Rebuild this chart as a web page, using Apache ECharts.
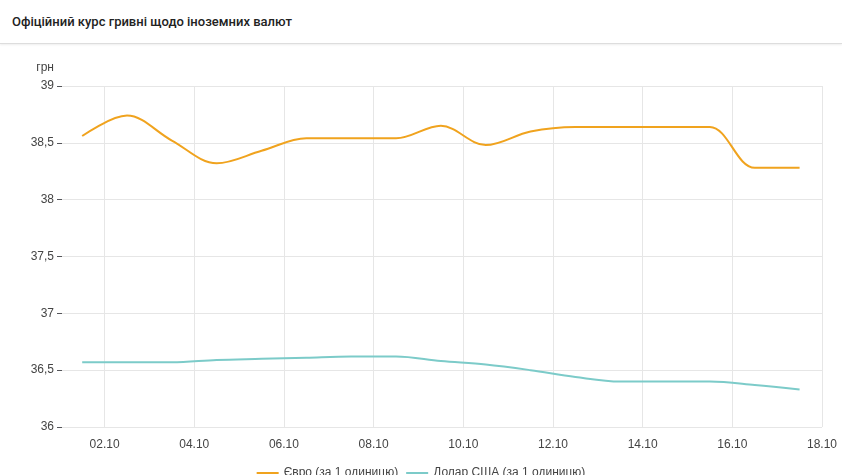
<!DOCTYPE html>
<html><head><meta charset="utf-8">
<script src="https://cdn.jsdelivr.net/npm/echarts@6/dist/echarts.min.js"></script>
<style>
body{margin:0;background:#fff;font-family:Roboto,sans-serif}
#hdr{height:44px;border-bottom:1px solid #ddd;box-shadow:0 1px 2px #eee;font-size:13px;font-weight:500;color:#222;line-height:44px;padding-left:12px;box-sizing:border-box}
#chart{width:842px;height:431px}
</style></head><body>
<div id="hdr">Офіційний курс гривні щодо іноземних валют</div>
<div id="chart"></div>
<script>
// day positions (day of October, noon)
const days = [1.5,2.5,3.5,4.5,5.5,6.5,7.5,8.5,9.5,10.5,11.5,12.5,13.5,14.5,15.5,16.5,17.5]
const euro = [38.56,38.74,38.52,38.32,38.43,38.54,38.54,38.54,38.65,38.48,38.60,38.64,38.64,38.64,38.64,38.28,38.28]
const usd = [36.57,36.57,36.57,36.59,36.60,36.61,36.62,36.62,36.58,36.55,36.50,36.44,36.40,36.40,36.40,36.37,36.33]
const tickDays = [2,4,6,8,10,12,14,16,18]

const chart = echarts.init(document.getElementById('chart'))
const fmtNum = v => String(v).replace('.', ',')
chart.setOption({
  animation: false,
  grid: { left: 62, right: 20, top: 42, bottom: 48 },
  legend: {
    bottom: -9, itemWidth: 22, itemHeight: 2, icon: 'rect',
    textStyle: { fontSize: 12, color: '#444' },
    data: ['Євро (за 1 одиницю)', 'Долар США (за 1 одиницю)']
  },
  xAxis: {
    type: 'value', min: 1.05, max: 18,
    axisLine: { show: false }, axisTick: { show: false, customValues: tickDays },
    axisLabel: { customValues: tickDays, color: '#444', fontSize: 12, margin: 12,
      formatter: v => String(v).padStart(2, '0') + '.10' },
    splitLine: { show: true, lineStyle: { color: '#e6e6e6' } }
  },
  yAxis: {
    type: 'value', min: 36, max: 39, interval: 0.5,
    name: 'грн', nameGap: 12, nameTextStyle: { color: '#444', fontSize: 12, align: 'right', padding: [0, 8, 0, 0] },
    axisLine: { show: false },
    axisLabel: { color: '#444', fontSize: 12, formatter: fmtNum },
    splitLine: { lineStyle: { color: '#e6e6e6' } }
  },
  series: [
    { name: 'Євро (за 1 одиницю)', type: 'line', smooth: 0.35, symbol: 'none',
      color: '#f0a31e', lineStyle: { width: 2 },
      data: days.map((d, i) => [d, euro[i]]) },
    { name: 'Долар США (за 1 одиницю)', type: 'line', smooth: 0.35, symbol: 'none',
      color: '#7ccbc9', lineStyle: { width: 2 },
      data: days.map((d, i) => [d, usd[i]]) }
  ]
})
</script></body></html>
